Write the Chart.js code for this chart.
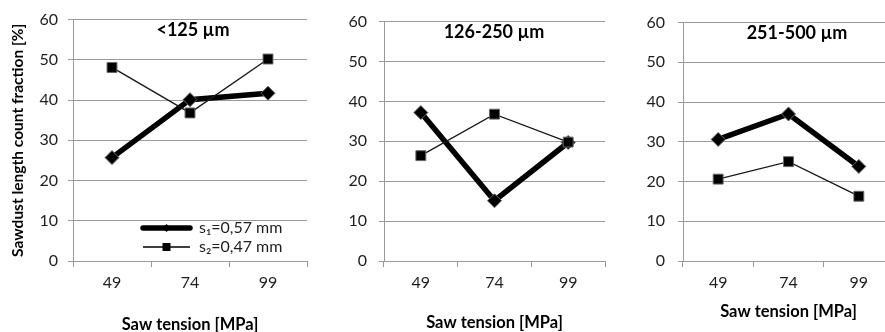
<!DOCTYPE html>
<html>
<head>
<meta charset="utf-8">
<script src="https://cdn.jsdelivr.net/npm/chart.js@4.4.0/dist/chart.umd.min.js"></script>
<style>
  html, body { margin: 0; padding: 0; background: #fff; overflow: hidden; width: 885px; height: 332px; }
  canvas { position: absolute; top: 0; }
</style>
</head>
<body>
<canvas id="c1" width="315" height="332" style="left:0px"></canvas>
<canvas id="c2" width="293" height="332" style="left:320px"></canvas>
<canvas id="c3" width="287" height="332" style="left:615px"></canvas>
<script>
// data
const tension = ['49', '74', '99'];
const seriesNames = ['s\u2081=0,57 mm', 's\u2082=0,47 mm'];
const panelTitles = ['<125 \u00b5m', '126-250 \u00b5m', '251-500 \u00b5m'];
const s1Fine = [25.7, 40.1, 41.7];
const s2Fine = [48.1, 36.8, 50.2];
const s1Mid = [37.2, 15.1, 29.7];
const s2Mid = [26.4, 36.8, 29.8];
const s1Coarse = [30.6, 37.0, 23.8];
const s2Coarse = [20.6, 25.0, 16.3];
const yMin = 0, yMax = 60, yStep = 10;

Chart.defaults.font.family = 'Lato';
Chart.defaults.color = '#1e1e1e';

const gridCol = '#9a9a9a';

// draws the panel title inside the plot and, for the first panel, the legend
const panelDecor = {
  id: 'panelDecor',
  afterDraw(chart, args, opts) {
    const ctx = chart.ctx, area = chart.chartArea;
    ctx.save();
    ctx.fillStyle = '#000';
    ctx.font = 'bold 18px Lato';
    ctx.textAlign = 'center';
    ctx.textBaseline = 'middle';
    ctx.fillText(opts.title, opts.titleX, area.top + 11);

    if (opts.legend) {
      chart.data.datasets.forEach((ds, i) => {
        const y = opts.legendY + i * 19;
        const x0 = opts.legendX, x1 = x0 + 47, cx = (x0 + x1) / 2;
        ctx.strokeStyle = '#000';
        ctx.lineWidth = ds.borderWidth;
        ctx.lineCap = i === 0 ? 'round' : 'butt';
        ctx.beginPath();
        ctx.moveTo(x0, y);
        ctx.lineTo(x1, y);
        ctx.stroke();
        ctx.fillStyle = '#000';
        ctx.beginPath();
        if (ds.pointStyle === 'rectRot') {
          ctx.moveTo(cx, y - 4); ctx.lineTo(cx + 4, y); ctx.lineTo(cx, y + 4); ctx.lineTo(cx - 4, y);
        } else {
          ctx.rect(cx - 4, y - 4, 8, 8);
        }
        ctx.closePath();
        ctx.fill();
        ctx.font = '16px Lato';
        ctx.fillStyle = '#1e1e1e';
        ctx.textAlign = 'left';
        ctx.fillText(ds.label, x1 + 9, y);
      });
    }
    ctx.restore();
  }
};

function makePanel(id, idx, s1, s2, cfg) {
  new Chart(document.getElementById(id), {
    type: 'line',
    data: {
      labels: tension,
      datasets: [
        {
          label: seriesNames[0], data: s1, order: 1,
          borderColor: '#000', borderWidth: 5.5,
          pointStyle: 'rectRot', pointRadius: 7,
          pointBackgroundColor: '#000', pointBorderColor: '#666', pointBorderWidth: 1
        },
        {
          label: seriesNames[1], data: s2, order: 0,
          borderColor: '#1a1a1a', borderWidth: 1.4,
          pointStyle: 'rect', pointRadius: 7,
          pointBackgroundColor: '#000', pointBorderColor: '#666', pointBorderWidth: 1
        }
      ]
    },
    options: {
      responsive: false,
      animation: false,
      layout: { padding: { top: 15, right: 5, bottom: 0, left: 0 } },
      plugins: {
        legend: { display: false },
        tooltip: { enabled: false },
        panelDecor: {
          title: panelTitles[idx], titleX: cfg.titleX,
          legend: cfg.legend, legendX: 143, legendY: 228
        }
      },
      scales: {
        x: {
          type: 'category',
          offset: true,
          afterFit: s => { s.height = 71; },
          grid: { offset: true, drawOnChartArea: false, drawTicks: true, tickLength: 6, color: gridCol },
          border: { color: gridCol },
          ticks: { font: { size: 16 }, padding: 6 },
          title: {
            display: true, text: 'Saw tension [MPa]', color: '#000',
            font: { size: 16.5, weight: 'bold' },
            padding: { top: 0, bottom: cfg.xTitlePad }
          }
        },
        y: {
          min: yMin, max: yMax,
          afterFit: s => { s.width = cfg.yWidth; },
          grid: { color: gridCol, tickLength: 5 },
          border: { color: gridCol },
          ticks: { stepSize: yStep, font: { size: 16 }, padding: cfg.yPad },
          title: {
            display: !!cfg.yTitle, text: 'Sawdust length count fraction [%]', color: '#000',
            font: { size: 15.5, weight: 'bold' },
            padding: { top: 9, bottom: 0 }
          }
        }
      }
    },
    plugins: [panelDecor]
  });
}

makePanel('c1', 0, s1Fine, s2Fine, { yWidth: 73, yPad: 10, yTitle: true, legend: true, titleX: 193, xTitlePad: -3 });
makePanel('c2', 1, s1Mid, s2Mid, { yWidth: 64, yPad: 12, legend: false, titleX: 174, xTitlePad: -1 });
makePanel('c3', 2, s1Coarse, s2Coarse, { yWidth: 68, yPad: 13, legend: false, titleX: 182, xTitlePad: 10 });
</script>
</body>
</html>
